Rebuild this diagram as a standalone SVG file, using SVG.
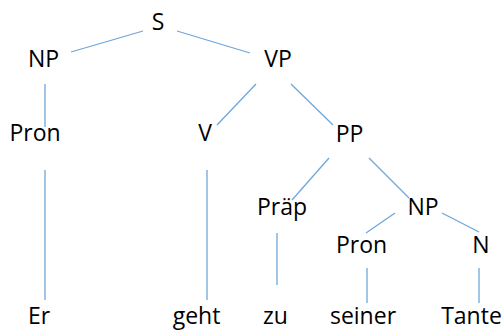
<svg xmlns="http://www.w3.org/2000/svg" width="503" height="330" viewBox="0 0 503 330">
<style>
text{font-family:"Open Sans","Noto Sans","DejaVu Sans",sans-serif;font-size:23px;fill:#000;text-anchor:middle}
.c line{stroke:#6FA6DB;stroke-width:1.3}
</style>
<rect width="503" height="330" fill="#fff"/>
<g class="c" id="connectors">
<line x1="143" y1="31" x2="71" y2="52"/>
<line x1="177" y1="31" x2="250" y2="53"/>
<line x1="45" y1="84" x2="45" y2="127"/>
<line x1="256" y1="84" x2="217" y2="125"/>
<line x1="291" y1="84" x2="333" y2="125"/>
<line x1="45" y1="170" x2="45" y2="300"/>
<line x1="207" y1="170" x2="207" y2="300"/>
<line x1="329" y1="158" x2="292" y2="200"/>
<line x1="369" y1="158" x2="409" y2="198"/>
<line x1="277" y1="233" x2="277" y2="285"/>
<line x1="395" y1="213" x2="366" y2="233"/>
<line x1="442" y1="213" x2="479" y2="232"/>
<line x1="367" y1="268" x2="367" y2="303"/>
<line x1="479" y1="268" x2="479" y2="303"/>
</g>
<g id="S"><text x="158" y="30">S</text></g>
<g id="NP1"><text x="43.5" y="67">NP</text></g>
<g id="VP"><text x="278" y="67">VP</text></g>
<g id="Pron1"><text x="35" y="141">Pron</text></g>
<g id="V"><text x="205" y="141">V</text></g>
<g id="PP"><text x="349.5" y="142">PP</text></g>
<g id="Praep"><text x="282" y="215">Präp</text></g>
<g id="NP2"><text x="423" y="215">NP</text></g>
<g id="Pron2"><text x="361.5" y="253">Pron</text></g>
<g id="N"><text x="481" y="253">N</text></g>
<g id="Er"><text x="39" y="323.5">Er</text></g>
<g id="geht"><text x="196.5" y="323.5">geht</text></g>
<g id="zu"><text x="275.5" y="323.5">zu</text></g>
<g id="seiner"><text x="363" y="323.5">seiner</text></g>
<g id="Tante"><text x="471.5" y="323.5">Tante</text></g>
</svg>
